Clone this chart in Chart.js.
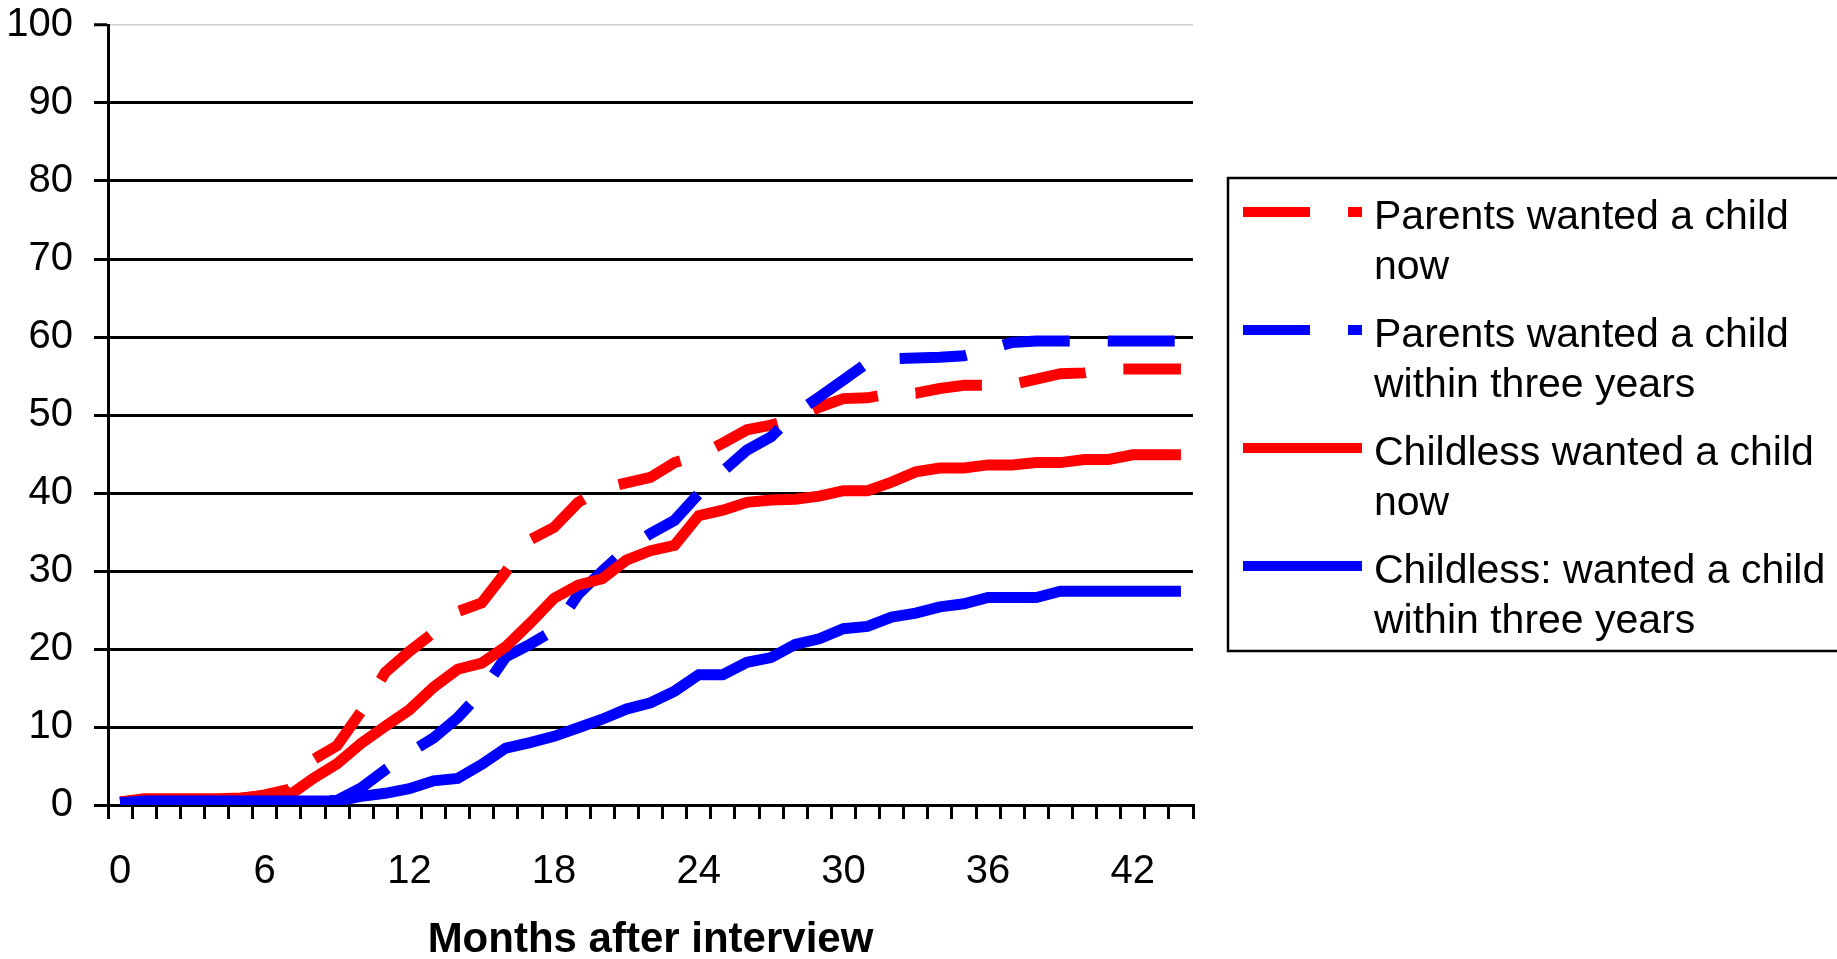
<!DOCTYPE html>
<html>
<head>
<meta charset="utf-8">
<script src="https://cdn.jsdelivr.net/npm/chart.js@4/dist/chart.umd.min.js"></script>
<style>
  html, body { margin: 0; padding: 0; background: #fff; }
  #wrap { position: relative; width: 1837px; height: 959px; }
</style>
</head>
<body>
<div id="wrap"><canvas id="c"></canvas></div>
<script>
// ---- Data ----
const months = Array.from({length: 45}, (_, i) => String(i));
const xTickLabels = ['0', '6', '12', '18', '24', '30', '36', '42'];
const yTickValues = [0, 10, 20, 30, 40, 50, 60, 70, 80, 90, 100];

const seriesNames = [
  ['Parents wanted a child', 'now'],
  ['Parents wanted a child', 'within three years'],
  ['Childless wanted a child', 'now'],
  ['Childless: wanted a child', 'within three years']
];

const parentsNow = [
  0.4, 0.6, 0.6, 0.6, 0.6, 0.8, 1.3, 2.0, 5.8, 7.6,
  12.0, 17.0, 19.7, 22.1, 24.8, 25.9, 29.9, 34.0, 35.6, 38.8,
  40.6, 41.3, 42.0, 43.9, 44.8, 46.4, 48.1, 48.7, 49.6, 51.0,
  52.1, 52.2, 52.8, 52.8, 53.4, 53.8, 53.8, 53.9, 54.6, 55.3,
  55.4, 55.9, 55.9, 55.9, 55.9
];
const parentsThreeYears = [
  0.3, 0.3, 0.3, 0.3, 0.3, 0.5, 0.5, 0.5, 0.5, 0.6,
  2.2, 4.5, 6.7, 8.6, 11.2, 14.5, 19.0, 20.6, 22.4, 27.0,
  30.0, 32.8, 34.8, 36.5, 39.9, 42.8, 45.5, 47.2, 50.2, 52.3,
  54.5, 56.7, 57.2, 57.3, 57.4, 57.6, 58.4, 59.3, 59.5, 59.5,
  59.5, 59.5, 59.5, 59.5, 59.5
];
const childlessNow = [
  0.4, 0.8, 0.8, 0.8, 0.8, 0.9, 1.2, 1.2, 3.4, 5.3,
  7.9, 10.1, 12.2, 15.1, 17.4, 18.2, 20.3, 23.3, 26.5, 28.2,
  29.0, 31.4, 32.6, 33.3, 37.1, 37.8, 38.8, 39.1, 39.2, 39.6,
  40.3, 40.3, 41.4, 42.7, 43.2, 43.2, 43.6, 43.6, 43.9, 43.9,
  44.3, 44.3, 44.9, 44.9, 44.9
];
const childlessThreeYears = [
  0.3, 0.5, 0.5, 0.5, 0.5, 0.5, 0.5, 0.5, 0.5, 0.5,
  1.1, 1.5, 2.1, 3.1, 3.4, 5.2, 7.3, 8.0, 8.8, 9.9,
  11.0, 12.3, 13.1, 14.6, 16.7, 16.7, 18.3, 18.9, 20.6, 21.3,
  22.6, 22.9, 24.1, 24.6, 25.4, 25.8, 26.6, 26.6, 26.6, 27.4,
  27.4, 27.4, 27.4, 27.4, 27.4
];

const xTitle = 'Months after interview';

// ---- Styles ----
const RED = '#FF0000';
const BLUE = '#0000FF';
const DASH = [67, 38];
const FONT = '"Liberation Sans", Arial, Helvetica, sans-serif';

Chart.defaults.font.family = FONT;
Chart.defaults.color = '#000';

function ds(label, data, color, dash, order) {
  return {
    label: label,
    data: data,
    borderColor: color,
    backgroundColor: color,
    borderWidth: 11,
    borderDash: dash,
    borderCapStyle: 'butt',
    borderJoinStyle: 'miter',
    pointRadius: 0,
    pointHoverRadius: 0,
    tension: 0,
    fill: false,
    order: order
  };
}

const boxLegend = {
  id: 'boxLegend',
  afterDraw(chart) {
    const ctx = chart.ctx;
    const area = chart.chartArea;
    const bx = area.right + 35;
    const by = 178;
    const bh = 473;
    ctx.save();
    ctx.strokeStyle = '#000';
    ctx.lineWidth = 2.5;
    ctx.setLineDash([]);
    ctx.strokeRect(bx, by, 700, bh);
    ctx.font = '41px ' + FONT;
    ctx.fillStyle = '#000';
    ctx.textBaseline = 'alphabetic';
    ctx.textAlign = 'left';
    chart.data.datasets.forEach((d, i) => {
      const base = by + 51 + i * 118;
      const sy = base - 17;
      ctx.beginPath();
      ctx.strokeStyle = d.borderColor;
      ctx.lineWidth = 10;
      ctx.lineCap = 'butt';
      ctx.setLineDash(d.borderDash || []);
      ctx.moveTo(bx + 15, sy);
      ctx.lineTo(bx + 134, sy);
      ctx.stroke();
      ctx.setLineDash([]);
      seriesNames[i].forEach((t, j) => ctx.fillText(t, bx + 146, base + j * 50));
    });
    ctx.restore();
  }
};

new Chart(document.getElementById('c'), {
  type: 'line',
  data: {
    labels: months,
    datasets: [
      ds(seriesNames[0].join(' '), parentsNow, RED, DASH, 4),
      ds(seriesNames[1].join(' '), parentsThreeYears, BLUE, DASH, 3),
      ds(seriesNames[2].join(' '), childlessNow, RED, [], 2),
      ds(seriesNames[3].join(' '), childlessThreeYears, BLUE, [], 1)
    ]
  },
  options: {
    responsive: true,
    maintainAspectRatio: false,
    devicePixelRatio: 1,
    animation: false,
    layout: { padding: { left: 0, right: 644, top: 25, bottom: 0 } },
    plugins: {
      legend: { display: false },
      tooltip: { enabled: false },
      title: { display: false }
    },
    scales: {
      x: {
        type: 'category',
        offset: true,
        grid: {
          offset: true,
          drawOnChartArea: false,
          drawTicks: true,
          tickLength: 14,
          tickWidth: 3,
          tickColor: '#000',
          lineWidth: 3,
          color: '#000'
        },
        border: { display: true, color: '#000', width: 3 },
        ticks: {
          autoSkip: false,
          maxRotation: 0,
          padding: 29,
          color: '#000',
          font: { size: 40 },
          callback: function(value, index) {
            const lab = months[index];
            return xTickLabels.includes(lab) ? lab : '';
          }
        },
        title: {
          display: true,
          text: xTitle,
          color: '#000',
          font: { size: 42, weight: 'bold', lineHeight: 0.9 },
          padding: { top: 0, bottom: 0 }
        },
        afterFit: function(scale) {
          scale.height = 154;
          scale.paddingLeft = 0;
          scale.paddingRight = 0;
        }
      },
      y: {
        min: 0,
        max: 100,
        afterBuildTicks: function(scale) {
          scale.ticks = yTickValues.map(v => ({ value: v }));
        },
        grid: {
          drawTicks: true,
          tickLength: 14,
          tickWidth: 3,
          tickColor: '#000',
          lineWidth: function(c) { return c.tick && c.tick.value === 100 ? 1.5 : 3; },
          color: function(c) { return c.tick && c.tick.value === 100 ? '#cfcfcf' : '#000'; }
        },
        border: { display: true, color: '#000', width: 3 },
        ticks: {
          padding: 21,
          color: '#000',
          font: { size: 40 }
        },
        afterFit: function(scale) {
          scale.width = 108;
          scale.paddingTop = 0;
          scale.paddingBottom = 0;
        }
      }
    }
  },
  plugins: [boxLegend]
});
</script>
</body>
</html>
